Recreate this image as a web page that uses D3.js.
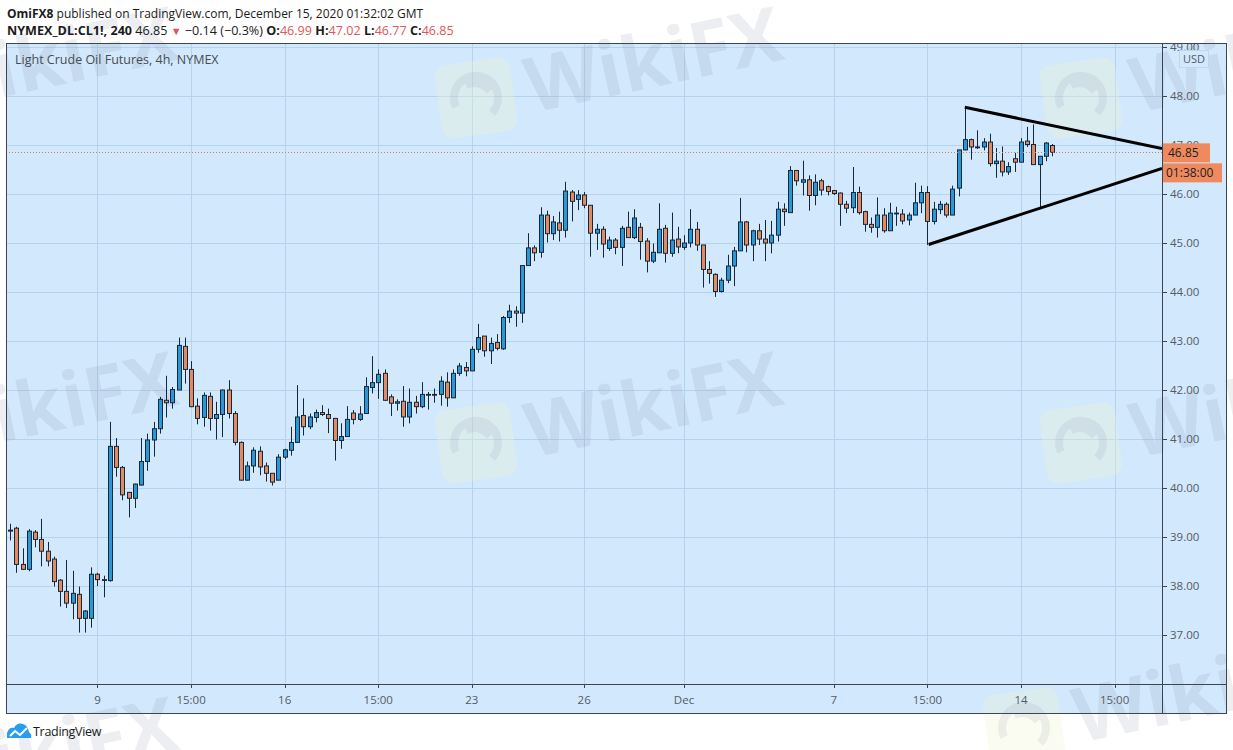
<!DOCTYPE html>
<html>
<head>
  <meta charset="utf-8">
  <script src="https://d3js.org/d3.v7.min.js"></script>
  <style>
    body {
      margin: 0;
      background: #ffffff;
      font-family: 'Open Sans', 'Noto Sans', sans-serif;
    }
    svg text {
      font-family: 'Open Sans', 'Noto Sans', sans-serif;
    }
  </style>
</head>
<body>
<script type="text/javascript">

  //Candle data, 4h bars (oldest first)
  var opens  = [39.14,39.18,38.44,38.34,39.10,38.95,38.71,38.55,38.12,37.89,37.65,37.83,37.34,37.34,38.24,38.13,38.11,40.85,40.42,39.91,
                39.79,40.06,40.54,40.98,41.21,41.79,41.74,42.00,42.89,42.42,41.67,41.44,41.87,41.42,41.50,42.00,41.52,40.93,40.16,40.45,
                40.75,40.45,40.30,40.16,40.63,40.77,40.93,41.48,41.25,41.44,41.54,41.50,41.42,40.97,41.05,41.53,41.40,41.52,42.05,42.15,
                42.34,41.86,41.73,41.77,41.45,41.75,41.66,41.90,41.90,41.91,42.16,41.84,42.34,42.46,42.39,42.83,43.10,42.80,42.97,42.84,
                43.48,43.61,43.57,44.54,44.90,44.81,45.57,45.19,45.41,45.26,46.04,45.89,45.98,45.77,45.20,45.28,44.89,45.06,44.91,45.32,
                45.11,45.32,45.04,44.63,44.80,45.30,44.79,45.08,44.91,45.00,45.28,44.96,44.46,44.36,44.01,44.24,44.53,44.84,45.43,44.96,
                45.25,45.08,45.00,45.16,45.69,45.62,46.48,46.24,46.29,45.97,46.27,46.15,46.07,46.02,45.79,45.72,46.03,45.64,45.38,45.32,
                45.57,45.25,45.60,45.59,45.47,45.57,45.82,46.03,45.44,45.68,45.79,45.57,46.12,46.90,47.11,46.96,46.96,47.06,46.62,46.67,
                46.45,46.72,46.65,47.08,47.01,46.60,46.77,46.99];
  var highs  = [39.27,39.21,38.77,39.16,39.14,39.37,38.90,38.60,38.14,38.53,38.31,37.99,37.51,38.38,38.27,38.21,41.35,41.02,40.45,39.92,
                40.09,41.02,41.11,41.35,41.86,42.29,42.06,43.07,43.07,42.59,41.83,41.95,41.95,41.76,42.01,42.20,41.57,40.95,40.54,40.83,
                40.85,40.52,40.30,40.69,40.80,41.25,42.10,41.83,41.52,41.60,41.69,41.62,41.43,41.32,41.67,41.59,41.67,42.26,42.69,42.42,
                42.42,41.91,41.81,42.08,42.03,41.88,42.16,41.96,42.03,42.28,42.36,42.42,42.55,42.57,42.89,43.35,43.10,43.07,43.14,43.51,
                43.74,43.71,44.54,45.20,44.95,45.73,45.66,45.55,45.64,46.25,46.08,46.08,46.04,45.77,45.39,45.34,45.13,45.10,45.35,45.64,
                45.69,45.41,45.10,44.99,45.81,45.37,45.62,45.33,45.16,45.69,45.43,44.96,44.63,44.38,44.29,44.76,44.92,45.92,45.45,45.27,
                45.39,45.47,45.45,45.84,45.81,46.57,46.49,46.68,46.38,46.40,46.31,46.17,46.08,46.03,45.86,46.55,46.15,45.66,45.52,45.93,
                45.71,45.82,45.74,45.69,45.62,46.23,46.17,46.16,45.84,45.86,45.83,46.17,46.90,47.77,47.13,47.30,47.14,47.23,46.94,46.97,
                46.65,46.84,47.14,47.37,47.42,46.77,47.06,47.02];
  var lows   = [38.93,38.27,38.33,38.30,38.79,38.40,38.40,37.99,37.58,37.55,37.32,37.05,37.05,37.15,38.00,37.77,38.09,40.23,39.75,39.40,
                39.59,40.05,40.35,40.64,41.11,41.44,41.62,42.00,42.13,41.65,41.30,41.25,41.17,40.99,41.04,41.42,40.87,40.15,40.15,40.31,
                40.26,40.13,40.05,40.16,40.59,40.66,40.93,41.07,41.20,41.34,41.47,41.12,40.56,40.80,41.05,41.30,41.37,41.52,41.93,41.82,
                41.78,41.47,41.58,41.25,41.32,41.52,41.63,41.60,41.74,41.68,41.66,41.84,42.29,42.28,42.39,42.76,42.68,42.53,42.81,42.82,
                43.37,43.29,43.37,44.54,44.63,44.70,45.01,45.06,45.03,45.11,45.44,45.67,45.71,44.72,44.86,44.70,44.84,44.77,44.53,45.11,
                45.08,44.66,44.40,44.59,44.80,44.60,44.72,44.79,44.86,44.91,44.84,44.09,44.17,43.90,43.99,44.18,44.12,44.84,44.81,44.63,
                44.96,44.63,44.79,45.03,45.35,45.62,46.17,45.97,45.66,45.77,45.97,45.97,45.98,45.35,45.61,45.61,45.58,45.23,45.21,45.11,
                45.21,45.25,45.35,45.38,45.36,45.57,45.61,44.96,45.38,45.59,45.52,45.57,45.95,46.89,46.70,46.92,46.89,46.56,46.33,46.36,
                46.39,46.45,46.65,46.96,46.60,45.73,46.67,46.77];
  var closes = [39.12,38.44,38.34,39.12,38.95,38.71,38.51,38.09,37.89,37.65,37.85,37.34,37.49,38.24,38.13,38.12,40.85,40.42,39.86,39.79,
                40.08,40.54,40.98,41.21,41.81,41.74,42.01,42.91,42.42,41.66,41.42,41.89,41.42,41.50,42.00,41.52,40.93,40.16,40.45,40.77,
                40.43,40.30,40.12,40.63,40.78,40.93,41.45,41.25,41.45,41.54,41.50,41.42,40.97,41.05,41.40,41.40,41.51,42.07,42.15,42.32,
                41.79,41.73,41.76,41.45,41.75,41.66,41.91,41.91,41.91,42.18,41.84,42.34,42.49,42.39,42.83,43.07,42.80,42.95,42.85,43.48,
                43.61,43.57,44.54,44.90,44.80,45.57,45.19,45.43,45.26,46.06,45.85,45.98,45.77,45.20,45.28,44.98,45.06,44.91,45.30,45.11,
                45.51,45.03,44.63,44.81,45.28,44.79,45.06,44.92,45.00,45.28,44.96,44.46,44.38,44.01,44.24,44.53,44.84,45.43,44.96,45.25,
                45.08,45.00,45.16,45.69,45.64,46.48,46.27,46.29,45.97,46.24,46.08,46.05,46.01,45.79,45.71,46.03,45.62,45.38,45.32,45.57,
                45.25,45.61,45.61,45.45,45.57,45.82,46.03,45.44,45.69,45.79,45.57,46.10,46.90,47.11,46.96,46.95,47.06,46.62,46.67,46.45,
                46.56,46.65,47.06,47.01,46.60,46.77,47.04,46.85];

  //Time axis: bar index of each label
  var timeTickIdx    = [14, 29, 44, 59, 74, 92, 108, 132, 147, 162, 177];
  var timeTickLabels = ["9", "15:00", "16", "15:00", "23", "26", "Dec", "7", "15:00", "14", "15:00"];

  //Price axis labels
  var priceTicks = [37, 38, 39, 40, 41, 42, 43, 44, 45, 46, 47, 48, 49];

  //Hand drawn triangle (bar index, price)
  var upperTrend = [[153, 47.77], [184.6, 46.93]];
  var lowerTrend = [[147.2, 44.97], [184.6, 46.52]];

  var lastPrice = 46.85;
  var countdown = "01:38:00";

  //colours
  var upColor = "#2b97d6",
      downColor = "#e48a60",
      outline = "#14283a",
      paneColor = "#d2e8fd",
      gridColor = "#b6d3ee",
      labelColor = "#555b63";

  //SVG setup
  var width = 1233, height = 750;
  var svg = d3.select("body").append("svg")
      .attr("width", width)
      .attr("height", height);

  // plot box edges (px)
  var pLeft = 6, pTop = 43, pRight = 1162, pBottom = 684, outerRight = 1226, outerBottom = 713;

  var x = d3.scaleLinear().domain([-0.5, 184.6]).range([7, pRight]);
  var y = d3.scaleLinear().domain([37, 49]).range([635, 47]);

  var defs = svg.append("defs");
  defs.append("clipPath").attr("id", "plotClip")
    .append("rect").attr("x", pLeft).attr("y", pTop).attr("width", pRight - pLeft).attr("height", pBottom - pTop);
  defs.append("clipPath").attr("id", "axisClip")
    .append("rect").attr("x", pRight).attr("y", pTop + 1).attr("width", outerRight - pRight).attr("height", pBottom - pTop);

  //background pane
  svg.append("rect")
      .attr("x", pLeft + 0.5).attr("y", pTop + 0.5)
      .attr("width", outerRight - pLeft).attr("height", outerBottom - pTop)
      .attr("fill", paneColor);

  //Grid
  var grid = svg.append("g").attr("clip-path", "url(#plotClip)");
  grid.selectAll(".hgrid").data(priceTicks).enter().append("line")
      .attr("x1", pLeft).attr("x2", pRight)
      .attr("y1", function(d) { return Math.round(y(d)) + 0.5; })
      .attr("y2", function(d) { return Math.round(y(d)) + 0.5; })
      .attr("stroke", gridColor).attr("stroke-width", 1);
  grid.selectAll(".vgrid").data(timeTickIdx).enter().append("line")
      .attr("x1", function(d) { return Math.round(x(d)) + 0.5; })
      .attr("x2", function(d) { return Math.round(x(d)) + 0.5; })
      .attr("y1", pTop).attr("y2", pBottom)
      .attr("stroke", gridColor).attr("stroke-width", 1);

  //Watermarks (faint)
  var marks = [[-605, -345], [0, -345], [605, -345], [-605, 0], [0, 0], [605, 0], [-605, 345], [548, 285]];
  var wm = svg.append("g").attr("pointer-events", "none");
  marks.forEach(function(m) {
    var g = wm.append("g").attr("transform", "translate(" + m[0] + "," + m[1] + ")");
    g.append("rect").attr("x", 438).attr("y", 406).attr("width", 76).attr("height", 74).attr("rx", 12)
        .attr("fill", "#f2f5cf").attr("opacity", 0.3)
        .attr("transform", "rotate(-8,476,443)");
    g.append("path")
        .attr("d", "M456,452 A22,22 0 1 1 492,458 M466,430 Q480,424 490,436")
        .attr("fill", "none").attr("stroke", "#8d98ad").attr("stroke-width", 8).attr("opacity", 0.14);
    g.append("text").attr("x", 532).attr("y", 458)
        .attr("transform", "rotate(-12,532,458)")
        .style("font-size", "76px").style("font-weight", "bold")
        .attr("fill", "#8590a6").attr("opacity", 0.15)
        .text("WikiFX");
  });

  //Candles
  var bars = svg.append("g").attr("clip-path", "url(#plotClip)");
  var idx = d3.range(opens.length);

  bars.selectAll(".wick").data(idx).enter().append("line")
      .attr("x1", function(i) { return Math.round(x(i)) + 0.5; })
      .attr("x2", function(i) { return Math.round(x(i)) + 0.5; })
      .attr("y1", function(i) { return y(highs[i]); })
      .attr("y2", function(i) { return y(lows[i]); })
      .attr("stroke", outline).attr("stroke-width", 1);

  bars.selectAll(".body").data(idx).enter().append("rect")
      .attr("x", function(i) { return Math.round(x(i)) - 1.5; })
      .attr("width", 4)
      .attr("y", function(i) { return y(Math.max(opens[i], closes[i])); })
      .attr("height", function(i) { return Math.max(0.8, Math.abs(y(opens[i]) - y(closes[i]))); })
      .attr("fill", function(i) { return closes[i] >= opens[i] ? upColor : downColor; })
      .attr("stroke", outline).attr("stroke-width", 1);

  //Last price dotted line
  bars.append("line")
      .attr("x1", pLeft).attr("x2", pRight)
      .attr("y1", Math.round(y(lastPrice)) + 0.5).attr("y2", Math.round(y(lastPrice)) + 0.5)
      .attr("stroke", "#e0795a").attr("stroke-width", 1).attr("stroke-dasharray", "1,2");

  //Triangle
  var trend = d3.line().x(function(d) { return x(d[0]); }).y(function(d) { return y(d[1]); });
  [upperTrend, lowerTrend].forEach(function(t) {
    bars.append("path").attr("d", trend(t))
        .attr("fill", "none").attr("stroke", "#000").attr("stroke-width", 3);
  });

  //Pane title
  svg.append("text").attr("x", 15).attr("y", 64)
      .style("font-size", "12.5px").attr("fill", "#474c52")
      .text("Light Crude Oil Futures, 4h, NYMEX");

  //Frame lines
  svg.append("line").attr("x1", pLeft).attr("x2", outerRight).attr("y1", pBottom + 0.5).attr("y2", pBottom + 0.5)
      .attr("stroke", "#3c4650");
  svg.append("line").attr("x1", pRight + 0.5).attr("x2", pRight + 0.5).attr("y1", pTop).attr("y2", outerBottom)
      .attr("stroke", "#3c4650");
  svg.append("rect")
      .attr("x", pLeft + 0.5).attr("y", pTop + 0.5)
      .attr("width", outerRight - pLeft).attr("height", outerBottom - pTop)
      .attr("fill", "none").attr("stroke", "#3c4650").attr("stroke-width", 1);

  //Price axis
  var pa = svg.append("g").attr("clip-path", "url(#axisClip)");
  pa.selectAll(".ptick").data(priceTicks).enter().append("line")
      .attr("x1", pRight).attr("x2", pRight + 5)
      .attr("y1", function(d) { return Math.round(y(d)) + 0.5; })
      .attr("y2", function(d) { return Math.round(y(d)) + 0.5; })
      .attr("stroke", "#3c4650");
  pa.selectAll(".plabel").data(priceTicks).enter().append("text")
      .attr("x", pRight + 8)
      .attr("y", function(d) { return y(d) + 4; })
      .style("font-size", "11.5px").attr("fill", labelColor)
      .text(function(d) { return d3.format(".2f")(d); });

  //USD tag
  svg.append("rect").attr("x", 1179.5).attr("y", 50.5).attr("width", 29).attr("height", 17)
      .attr("fill", paneColor).attr("stroke", "#c2d6ea");
  svg.append("text").attr("x", 1194).attr("y", 63).attr("text-anchor", "middle")
      .style("font-size", "11px").attr("fill", labelColor).text("USD");

  //Last price + countdown boxes
  var py = y(lastPrice);
  svg.append("rect").attr("x", pRight + 1).attr("y", py - 9).attr("width", 47).attr("height", 19).attr("fill", "#ee8a5e");
  svg.append("text").attr("x", pRight + 6).attr("y", py + 5)
      .style("font-size", "12px").attr("fill", "#1e1e1e").text(d3.format(".2f")(lastPrice));
  svg.append("rect").attr("x", pRight + 1).attr("y", py + 11).attr("width", 59).attr("height", 19).attr("fill", "#ee8a5e");
  svg.append("text").attr("x", pRight + 4).attr("y", py + 25)
      .style("font-size", "12px").attr("fill", "#1e1e1e").text(countdown);

  //Time axis
  svg.selectAll(".ttick").data(timeTickIdx).enter().append("line")
      .attr("x1", function(d) { return Math.round(x(d)) + 0.5; })
      .attr("x2", function(d) { return Math.round(x(d)) + 0.5; })
      .attr("y1", pBottom).attr("y2", pBottom + 4)
      .attr("stroke", "#3c4650");
  svg.selectAll(".tlabel").data(timeTickIdx).enter().append("text")
      .attr("x", function(d) { return x(d); })
      .attr("y", 704)
      .attr("text-anchor", "middle")
      .style("font-size", "11.5px").attr("fill", labelColor)
      .text(function(d, i) { return timeTickLabels[i]; });

  //Header
  var h1 = svg.append("text").attr("x", 7).attr("y", 18).style("font-size", "12px").attr("fill", "#1b1b1b");
  h1.append("tspan").style("font-weight", "bold").text("OmiFX8");
  h1.append("tspan").text(" published on TradingView.com, December 15, 2020 01:32:02 GMT");

  var red = "#e0575b";
  var h2 = svg.append("text").attr("x", 7).attr("y", 35).style("font-size", "12.6px").attr("fill", "#1b1b1b");
  h2.append("tspan").style("font-weight", "bold").text("NYMEX_DL:CL1!, 240");
  h2.append("tspan").text(" 46.85 ");
  h2.append("tspan").attr("fill", red).style("font-size", "11px").text("\u25BC");
  h2.append("tspan").text(" \u22120.14 (\u22120.3%) ");
  [["O:", "46.99"], ["H:", "47.02"], ["L:", "46.77"], ["C:", "46.85"]].forEach(function(p, i) {
    h2.append("tspan").style("font-weight", "bold").text((i ? " " : "") + p[0]);
    h2.append("tspan").attr("fill", red).text(p[1]);
  });

  //TradingView footer logo
  var logo = svg.append("g").attr("transform", "translate(7,722)");
  logo.append("path")
      .attr("d", "M0,16 L0,11 Q2,5 7,6 Q10,0 16,2 Q21,4 22,10 Q25,12 24,16 Z")
      .attr("fill", "#2a9cf0");
  logo.append("polyline").attr("points", "3,14 8,9 13,13 20,6")
      .attr("fill", "none").attr("stroke", "#ffffff").attr("stroke-width", 2);
  svg.append("text").attr("x", 33).attr("y", 736)
      .style("font-size", "12.5px").style("letter-spacing", "-0.3px").attr("fill", "#1b1b1b")
      .text("TradingView");

</script>
</body>
</html>
